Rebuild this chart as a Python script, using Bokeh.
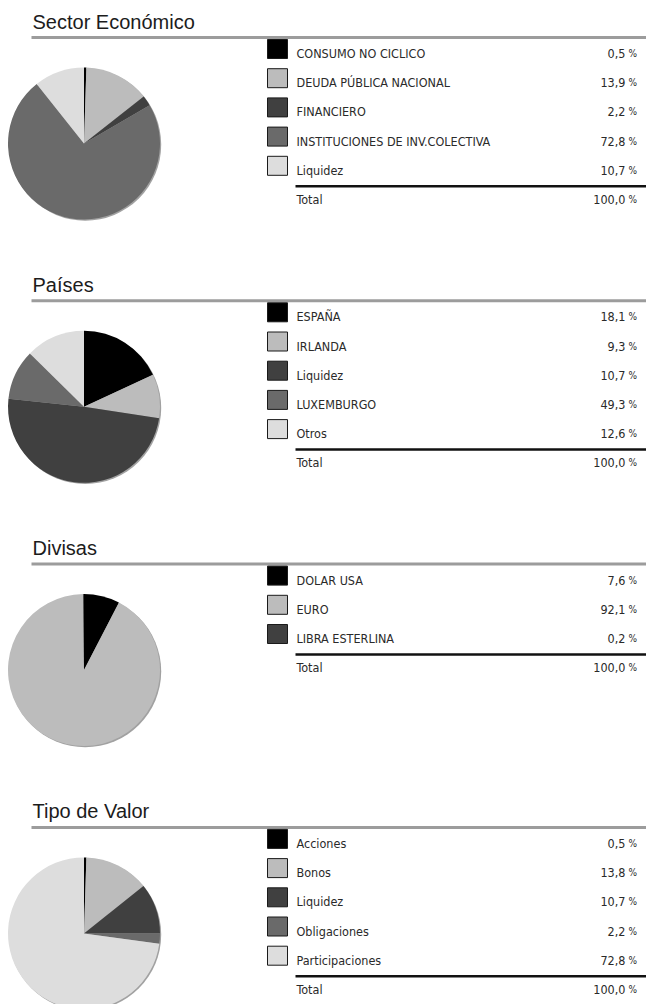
import math
from bokeh.plotting import figure
from bokeh.models import Range1d, ColumnDataSource
from bokeh.core.properties import value
from bokeh.embed import file_html
from bokeh.resources import INLINE

# ---------------- data ----------------
titles = ["Sector Económico", "Países", "Divisas", "Tipo de Valor"]

sector_labels = ["CONSUMO NO CICLICO", "DEUDA PÚBLICA NACIONAL", "FINANCIERO",
                 "INSTITUCIONES DE INV.COLECTIVA", "Liquidez"]
sector_values = [0.5, 13.9, 2.2, 72.8, 10.7]

paises_labels = ["ESPAÑA", "IRLANDA", "Liquidez", "LUXEMBURGO", "Otros"]
paises_values = [18.1, 9.3, 10.7, 49.3, 12.6]

divisas_labels = ["DOLAR USA", "EURO", "LIBRA ESTERLINA"]
divisas_values = [7.6, 92.1, 0.2]

tipo_labels = ["Acciones", "Bonos", "Liquidez", "Obligaciones", "Participaciones"]
tipo_values = [0.5, 13.8, 10.7, 2.2, 72.8]

# order in which the legend items appear around each pie (clockwise from 12 o'clock)
sector_pie_order = [0, 1, 2, 3, 4]
paises_pie_order = [0, 1, 3, 2, 4]
divisas_pie_order = [0, 1, 2]
tipo_pie_order = [0, 1, 2, 3, 4]

total_label = "Total"
total_text = "100,0"

palette = ["#000000", "#bcbcbc", "#404040", "#6a6a6a", "#dddddd"]

sections = [
    (titles[0], sector_labels, sector_values, sector_pie_order),
    (titles[1], paises_labels, paises_values, paises_pie_order),
    (titles[2], divisas_labels, divisas_values, divisas_pie_order),
    (titles[3], tipo_labels, tipo_values, tipo_pie_order),
]

# ---------------- layout (page pixels) ----------------
W, H = 646, 1004
p = figure(width=W, height=H, x_range=Range1d(0, W), y_range=Range1d(-H, 0),
           output_backend="svg", toolbar_location=None, min_border=0,
           x_axis_location=None, y_axis_location=None)
p.grid.visible = False
p.outline_line_color = None
p.background_fill_color = "white"
p.border_fill_color = "white"

TITLE_FONT = value("Liberation Sans")
LEG_FONT = value("Liberation Sans Narrow, DejaVu Sans Condensed, Liberation Sans")

STEP = 263.3
ROW = 29.2
PIE_R = 76

def fmt(v):
    return f"{v:.1f}".replace(".", ",")

for s, (title, labels, vals, order) in enumerate(sections):
    off = s * STEP
    rule_y = 37 + off
    # title
    p.text(x=[32], y=[-(rule_y - 16)], text=[title], text_font=TITLE_FONT,
           text_font_size=value("20px"), text_color="#1c1c1c",
           text_baseline="middle", text_align="left")
    # grey rule
    p.line(x=[31, 646], y=[-rule_y, -rule_y], line_width=3, line_color="#9c9c9c")

    # pie
    cx, cy = 83.5, 143 + off
    p.circle(x=[cx + 1.2], y=[-(cy + 1.2)], radius=PIE_R, fill_color="#8a8a8a",
             line_color=None, fill_alpha=0.8)
    total = sum(vals)
    starts, ends, cols = [], [], []
    cum = 0.0
    for k, idx in enumerate(order):
        a0 = math.pi / 2 - 2 * math.pi * cum / total
        cum += vals[idx]
        a1 = math.pi / 2 - 2 * math.pi * cum / total
        starts.append(a0)
        ends.append(a1)
        cols.append(palette[k])
    src = ColumnDataSource(dict(x=[cx] * len(order), y=[-cy] * len(order),
                                s=starts, e=ends, c=cols))
    p.wedge(x="x", y="y", radius=PIE_R, start_angle="s", end_angle="e",
            direction="clock", fill_color="c", line_color=None, source=src)

    # legend rows
    n = len(labels)
    text_y = [53 + off + ROW * i for i in range(n)]
    sw_y = [t - 4.5 for t in text_y]
    p.rect(x=[277] * n, y=[-v for v in sw_y], width=20, height=19,
           fill_color=palette[:n], line_color="#1a1a1a", line_width=1)
    p.text(x=[296] * n, y=[-v for v in text_y], text=labels, text_font=LEG_FONT,
           text_font_size=value("12.5px"), text_color="#2a2a2a",
           text_baseline="middle", text_align="left")
    p.text(x=[625] * n, y=[-v for v in text_y], text=[fmt(v) for v in vals],
           text_font=LEG_FONT, text_font_size=value("12.5px"), text_color="#2a2a2a",
           text_baseline="middle", text_align="right")
    p.text(x=[628] * n, y=[-v for v in text_y], text=["%"] * n,
           text_font=LEG_FONT, text_font_size=value("10px"), text_color="#2a2a2a",
           text_baseline="middle", text_align="left")

    # total line + total row
    line_y = text_y[-1] + 16
    tot_y = line_y + 13
    p.line(x=[295, 646], y=[-line_y, -line_y], line_width=2.5, line_color="#111111")
    p.text(x=[296], y=[-tot_y], text=[total_label], text_font=LEG_FONT,
           text_font_size=value("12.5px"), text_color="#2a2a2a",
           text_baseline="middle", text_align="left")
    p.text(x=[625], y=[-tot_y], text=[total_text], text_font=LEG_FONT,
           text_font_size=value("12.5px"), text_color="#2a2a2a",
           text_baseline="middle", text_align="right")
    p.text(x=[628], y=[-tot_y], text=["%"], text_font=LEG_FONT,
           text_font_size=value("10px"), text_color="#2a2a2a",
           text_baseline="middle", text_align="left")

open("out.html", "w").write(file_html(p, INLINE))
